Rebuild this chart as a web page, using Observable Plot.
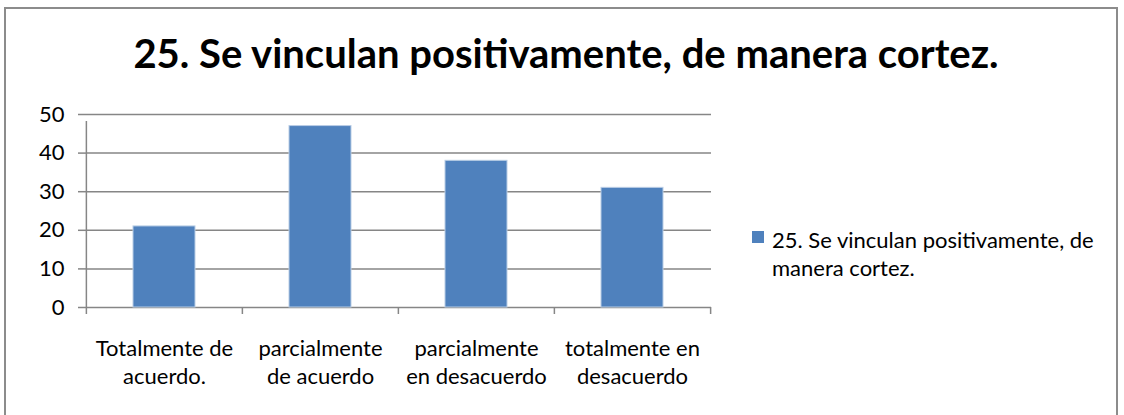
<!DOCTYPE html>
<html>
<head>
<meta charset="utf-8">
<script src="https://cdn.jsdelivr.net/npm/d3@7"></script>
<script src="https://cdn.jsdelivr.net/npm/@observablehq/plot@0.6"></script>
<style>
  html, body { margin: 0; padding: 0; background: #fff; }
  #chart { position: relative; width: 1124px; height: 415px; overflow: hidden; font-family: Lato, "Open Sans", sans-serif; }
  #frame { position: absolute; left: 4px; top: 7px; width: 1114px; height: 420px; border: 2px solid #8c8c8c; box-sizing: border-box; }
  #title { position: absolute; left: 4px; width: 1124px; top: 33px; text-align: center; font-size: 40px; font-weight: bold; color: #000; line-height: 1; }
  #legend { position: absolute; left: 752px; top: 226px; font-size: 22px; color: #000; line-height: 28px; }
  #legend .sw { position: absolute; left: 0; top: 5px; width: 12px; height: 12px; background: #4f81bd; }
  #legend .tx { margin-left: 20px; }
  #plot { position: absolute; left: 0; top: 0; }
</style>
</head>
<body>
<div id="chart">
  <div id="frame"></div>
  <div id="plot"></div>
  <div id="title"></div>
  <div id="legend"><div class="sw"></div><div class="tx"></div></div>
</div>
<script>
const title = "25. Se vinculan positivamente, de manera cortez.";
const legendLines = ["25. Se vinculan positivamente, de", "manera cortez."];
const categories = ["Totalmente de acuerdo.", "parcialmente de acuerdo", "parcialmente en desacuerdo", "totalmente en desacuerdo"];
const tickLabels = ["Totalmente de\nacuerdo.", "parcialmente\nde acuerdo", "parcialmente\nen desacuerdo", "totalmente en\ndesacuerdo"];
const values = [21, 47, 38, 31];
const yTicks = [0, 10, 20, 30, 40, 50];

const data = categories.map((c, i) => ({category: c, value: values[i]}));

document.getElementById("title").textContent = title;
const tx = document.querySelector("#legend .tx");
legendLines.forEach((l, i) => { if (i) tx.appendChild(document.createElement("br")); tx.appendChild(document.createTextNode(l)); });

const W = 1124, H = 415;
const mL = 86, mR = 1124 - 711, mT = 114, mB = 415 - 307;
const step = (W - mL - mR) / categories.length;
const grid = "#868686";

const chart = Plot.plot({
  width: W,
  height: H,
  marginLeft: mL,
  marginRight: mR,
  marginTop: mT,
  marginBottom: mB,
  style: {fontFamily: "Lato, 'Open Sans', sans-serif", fontSize: "22px", color: "#000", background: "transparent"},
  x: {domain: categories, paddingInner: 0.6, paddingOuter: 0.3, label: null},
  y: {domain: [0, 50], label: null},
  marks: [
    Plot.gridY(yTicks, {stroke: grid, strokeOpacity: 1, strokeWidth: 1.5}),
    Plot.axisY(yTicks, {tickSize: 8, tickPadding: 14, stroke: grid, strokeWidth: 1.5, fill: "#000", label: null, fontSize: 22}),
    Plot.ruleX([categories[0]], {dx: -step / 2, y1: 0, y2: 50, stroke: grid, strokeWidth: 1.5, insetBottom: -7}),
    Plot.ruleX(categories, {dx: -step / 2, y1: 0, y2: 0, stroke: grid, strokeWidth: 1.5, insetBottom: -7}),
    Plot.ruleX([categories[categories.length - 1]], {dx: step / 2, y1: 0, y2: 0, stroke: grid, strokeWidth: 1.5, insetBottom: -7}),
    Plot.barY(data, {x: "category", y: "value", fill: "#4f81bd", stroke: "#b9cde5", strokeWidth: 1}),
    Plot.axisX({tickSize: 0, tickPadding: 29, tickFormat: (d) => tickLabels[categories.indexOf(d)], lineHeight: 1.27, fill: "#000", label: null, fontSize: 22})
  ]
});
document.getElementById("plot").appendChild(chart);
</script>
</body>
</html>
